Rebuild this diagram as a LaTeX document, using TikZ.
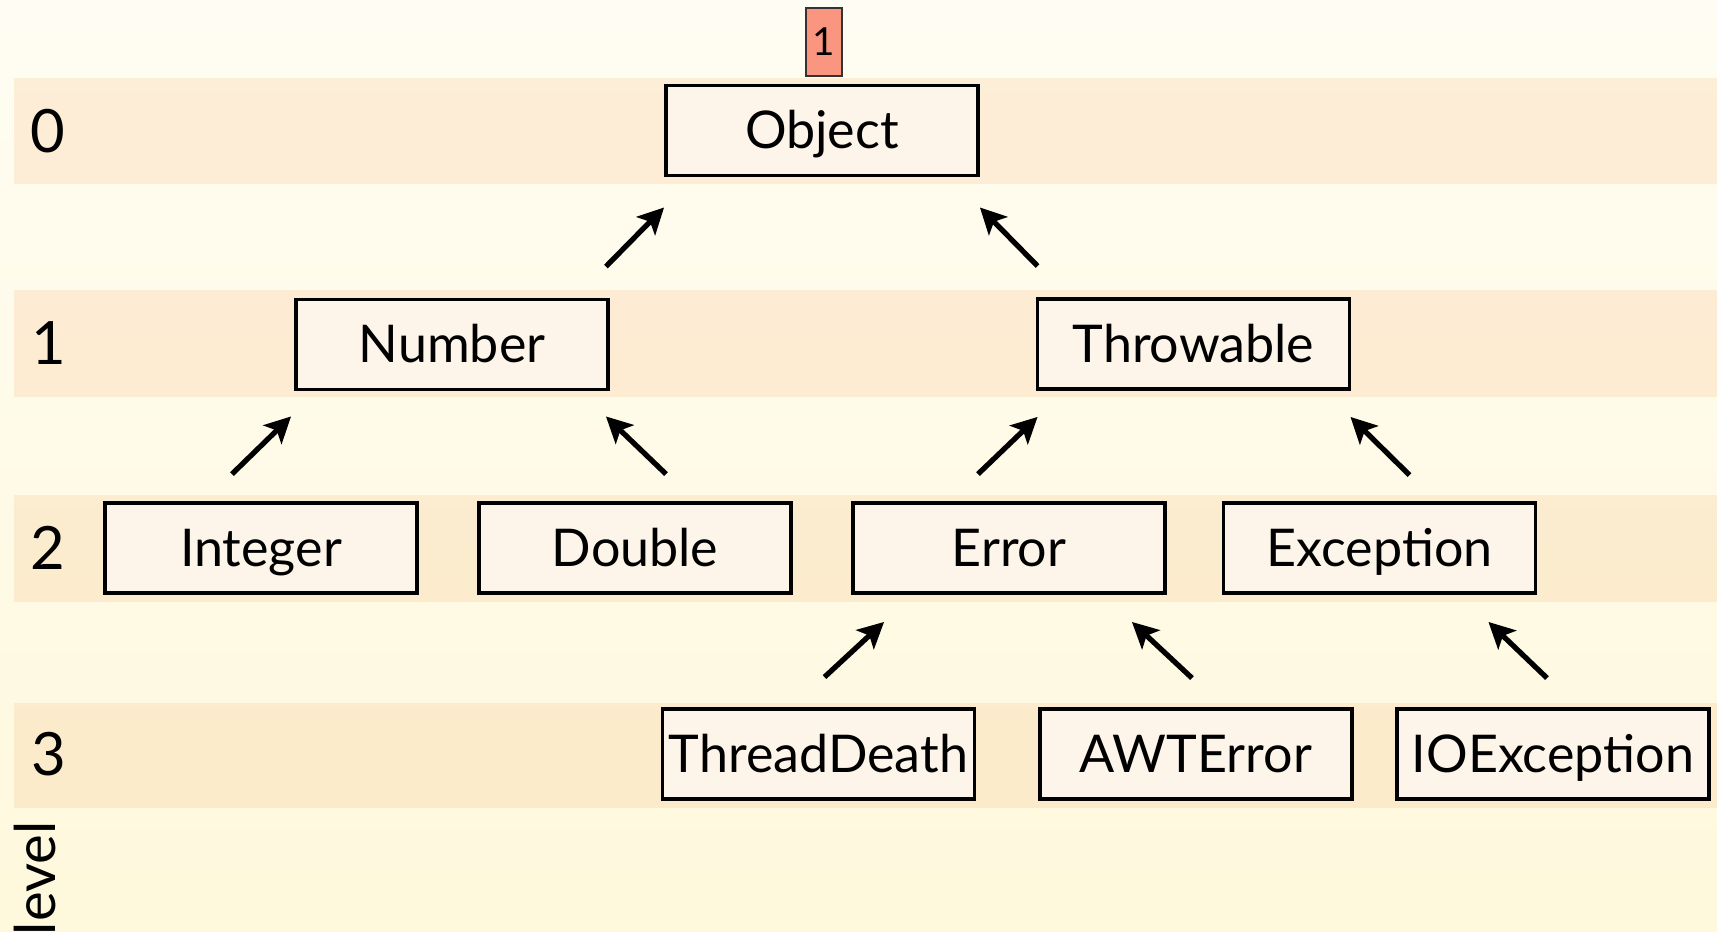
\documentclass[tikz,border=0pt]{standalone}
\usepackage{fontspec}
\setmainfont{Lato}
\usetikzlibrary{arrows.meta}

\definecolor{bgtop}{RGB}{255,253,243}
\definecolor{bgbot}{RGB}{254,248,220}
\definecolor{bandcol}{RGB}{250,195,140}
\definecolor{boxfill}{RGB}{253,244,234}
\definecolor{markfill}{RGB}{250,150,128}

\begin{document}
\begin{tikzpicture}[line join=miter,
    cls/.style={draw, line width=1.1pt, fill=boxfill, minimum width=3.12cm,
                minimum height=0.9cm, inner sep=0pt, text height=0.39cm,
                text depth=0.03cm, font=\fontsize{14.8}{18}\selectfont},
    band/.style={fill=bandcol, fill opacity=0.25},
    lvl/.style={anchor=west, inner sep=0pt, font=\fontsize{17}{20}\selectfont},
    isa/.style={line width=1.5pt,
                -{Stealth[length=2.6mm, width=2.6mm, inset=0.6mm]}}]
  % the page
  \useasboundingbox (0,0) rectangle (17.17,9.31);
  \clip (0,0) rectangle (17.17,9.31);
  \shade[top color=bgtop, bottom color=bgbot] (0,0) rectangle (17.17,9.31);
  % level bands
  \fill[band] (0.14,7.47) rectangle (17.17,8.53);
  \fill[band] (0.14,5.34) rectangle (17.17,6.41);
  \fill[band] (0.14,3.29) rectangle (17.17,4.36);
  \fill[band] (0.14,1.23) rectangle (17.17,2.28);
  \node[lvl] (l0) at (0.30,8.00) {0};
  \node[lvl] (l1) at (0.31,5.88) {1};
  \node[lvl] (l2) at (0.30,3.83) {2};
  \node[lvl] (l3) at (0.31,1.77) {3};
  \node[rotate=90, anchor=base east, inner sep=0pt,
        font=\fontsize{16}{19}\selectfont] (lvltitle) at (0.55,1.10) {level};
  % the classes
  \node[cls] (Object)      at (8.22,8.005)  {Object};
  \node[cls] (Number)      at (4.52,5.865)  {Number};
  \node[cls] (Throwable)   at (11.935,5.87) {Throwable};
  \node[cls] (Integer)     at (2.61,3.83)   {Integer};
  \node[cls] (Double)      at (6.35,3.83)   {Double};
  \node[cls] (Error)       at (10.09,3.83)  {Error};
  \node[cls] (Exception)   at (13.795,3.83) {Exception};
  \node[cls] (ThreadDeath) at (8.185,1.77)  {ThreadDeath};
  \node[cls] (AWTError)    at (11.96,1.77)  {AWTError};
  \node[cls] (IOException) at (15.53,1.77)  {IOException};
  % mark above the root
  \node[draw=black!80, line width=0.5pt, fill=markfill, minimum width=0.36cm,
        minimum height=0.68cm, inner sep=0pt,
        font=\fontsize{11}{13}\selectfont] (mark) at (8.24,8.89) {1};
  % inheritance arrows
  \draw[isa] ([shift={(-0.04,0.31)}]Number.north east)
          -- ([shift={(0,-0.30)}]Object.south west);
  \draw[isa] ([shift={(0.02,0.31)}]Throwable.north west)
          -- ([shift={(0,-0.30)}]Object.south east);
  \draw[isa] ([shift={(-0.29,0.27)}]Integer.north)
          -- ([shift={(-0.03,-0.25)}]Number.south west);
  \draw[isa] ([shift={(0.31,0.27)}]Double.north)
          -- ([shift={(-0.04,-0.25)}]Number.south east);
  \draw[isa] ([shift={(-0.31,0.27)}]Error.north)
          -- ([shift={(0.02,-0.26)}]Throwable.south west);
  \draw[isa] ([shift={(0.30,0.26)}]Exception.north)
          -- ([shift={(-0.01,-0.26)}]Throwable.south east);
  \draw[isa] ([shift={(0.06,0.30)}]ThreadDeath.north)
          -- ([shift={(0.33,-0.27)}]Error.south west);
  \draw[isa] ([shift={(-0.04,0.29)}]AWTError.north)
          -- ([shift={(-0.35,-0.27)}]Error.south east);
  \draw[isa] ([shift={(-0.06,0.29)}]IOException.north)
          -- ([shift={(-0.49,-0.27)}]Exception.south east);
\end{tikzpicture}
\end{document}
